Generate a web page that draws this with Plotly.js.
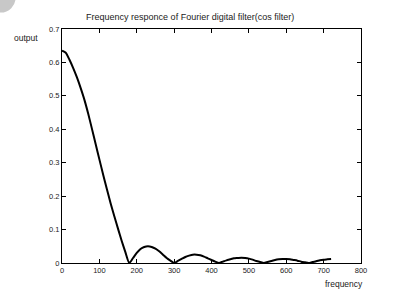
<!DOCTYPE html>
<html>
<head>
<meta charset="utf-8">
<script src="https://cdn.plot.ly/plotly-3.0.1.min.js"></script>
<style>html,body{margin:0;padding:0;background:#fff;}#chart{width:408px;height:289px;}</style>
</head>
<body>
<div id="chart"></div>
<script>
// Frequency (Hz) sampled every 10
const freq = [0,10,20,30,40,50,60,70,80,90,100,110,120,130,140,150,160,170,180,
  190,200,210,220,230,240,250,260,270,280,290,300,
  310,320,330,340,350,360,370,380,390,400,410,420,
  430,440,450,460,470,480,490,500,510,520,530,540,
  550,560,570,580,590,600,610,620,630,640,650,660,
  670,680,690,700,710,720];
const output = [0.635,0.629,0.608,0.583,0.555,0.523,0.488,0.447,0.402,0.356,0.31,0.265,0.221,0.179,0.14,0.102,0.065,0.031,0.0,
  0.015,0.03,0.042,0.048,0.05,0.048,0.043,0.035,0.025,0.015,0.007,0.0,
  0.006,0.012,0.018,0.022,0.025,0.025,0.023,0.019,0.014,0.009,0.004,0.0,
  0.004,0.008,0.011,0.014,0.015,0.016,0.015,0.013,0.010,0.006,0.003,0.0,
  0.003,0.006,0.009,0.011,0.012,0.012,0.011,0.009,0.007,0.004,0.002,0.0,
  0.003,0.005,0.008,0.010,0.011,0.012];
const xTicks = [0,100,200,300,400,500,600,700,800];
const yTicks = [0,0.1,0.2,0.3,0.4,0.5,0.6,0.7];
const titleText = "Frequency responce of Fourier digital filter(cos filter)";
const yLabel = "output";
const xLabel = "frequency";

const fam = "Liberation Sans, Arial, sans-serif";
const tickFont = {family: fam, size: 7.5, color: "#222"};
const labelFont = {family: fam, size: 8.5, color: "#222"};
const trace = {x: freq, y: output, type: "scatter", mode: "lines",
  line: {color: "#000", width: 2, shape: "spline", smoothing: 0.6}, hoverinfo: "skip"};
const axisCommon = {showgrid: false, zeroline: false, showline: true, linecolor: "#000",
  linewidth: 1, mirror: "ticks", ticks: "inside", ticklen: 4, tickcolor: "#000",
  tickfont: tickFont};
const layout = {
  width: 408, height: 289,
  margin: {l: 62, r: 47, t: 29, b: 26, pad: 0},
  paper_bgcolor: "#fff", plot_bgcolor: "#fff",
  showlegend: false,
  font: labelFont,
  title: {text: titleText, font: {family: fam, size: 9, color: "#222"},
    x: 0.466, xref: "container", y: 0.941, yref: "container", xanchor: "center", yanchor: "middle"},
  xaxis: Object.assign({}, axisCommon, {range: [0, 800], tickvals: xTicks,
    ticktext: xTicks.map(String)}),
  yaxis: Object.assign({}, axisCommon, {range: [0, 0.7], tickvals: yTicks,
    ticktext: yTicks.map(v => v === 0 ? "0" : v.toFixed(1))}),
  annotations: [
    {text: yLabel, xref: "paper", yref: "paper", x: -0.073, y: 0.96, xanchor: "right",
      yanchor: "middle", showarrow: false, font: labelFont},
    {text: xLabel, xref: "paper", yref: "paper", x: 1.012, y: -0.088, xanchor: "right",
      yanchor: "middle", showarrow: false, font: labelFont}
  ],
  shapes: [
    {type: "circle", xref: "paper", yref: "paper", x0: -0.255, x1: -0.155, y0: 1.07, y1: 1.2,
      fillcolor: "#c8c8c8", line: {width: 0}, layer: "above"}
  ]
};
Plotly.newPlot("chart", [trace], layout, {staticPlot: true, displayModeBar: false});
</script>
</body>
</html>
